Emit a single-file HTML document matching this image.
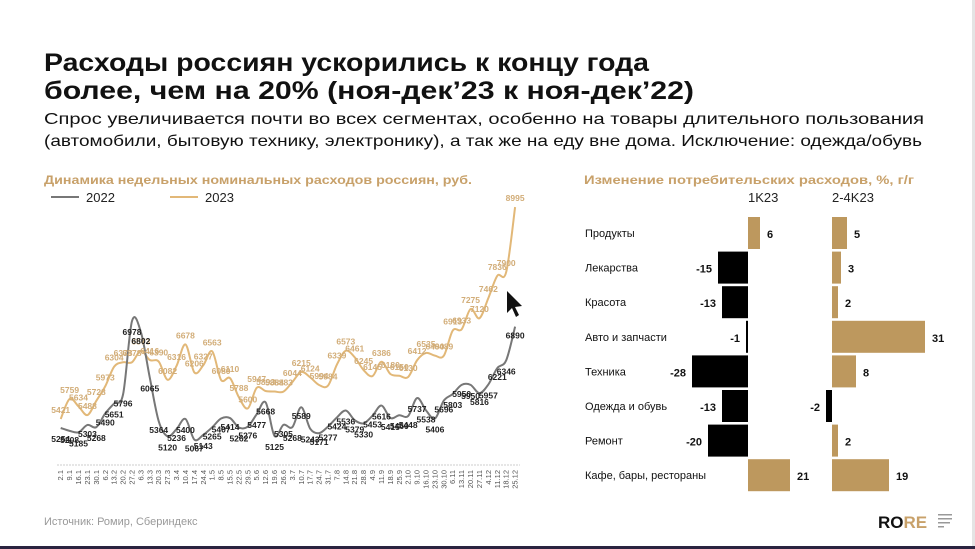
<!DOCTYPE html>
<html><head><meta charset="utf-8">
<style>
html,body{margin:0;padding:0;background:#fff;}
body{width:975px;height:549px;overflow:hidden;position:relative;font-family:"Liberation Sans",sans-serif;}
</style></head>
<body>
<svg id="s" width="975" height="549" xmlns="http://www.w3.org/2000/svg" style="position:absolute;left:0;top:0;font-family:'Liberation Sans',sans-serif">
<rect x="0" y="0" width="975" height="549" fill="#fff"/>
<rect x="972" y="0" width="3" height="549" fill="#e4e4e4"/>
<rect x="0" y="546" width="975" height="3" fill="#2a2440"/>
<text x="44" y="71" font-size="25" font-weight="bold" fill="#111" textLength="605" lengthAdjust="spacingAndGlyphs">Расходы россиян ускорились к концу года</text>
<text x="44" y="99" font-size="25" font-weight="bold" fill="#111" textLength="650" lengthAdjust="spacingAndGlyphs">более, чем на 20% (ноя-дек’23 к ноя-дек’22)</text>
<text x="44" y="124" font-size="16" fill="#111" textLength="880" lengthAdjust="spacingAndGlyphs">Спрос увеличивается почти во всех сегментах, особенно на товары длительного пользования</text>
<text x="44" y="146" font-size="16" fill="#111" textLength="878" lengthAdjust="spacingAndGlyphs">(автомобили, бытовую технику, электронику), а так же на еду вне дома. Исключение: одежда/обувь</text>
<text x="44" y="184" font-size="12" font-weight="bold" fill="#c8a16a" textLength="428" lengthAdjust="spacingAndGlyphs">Динамика недельных номинальных расходов россиян, руб.</text>
<line x1="51" y1="197" x2="79" y2="197" stroke="#777" stroke-width="2"/>
<text x="86" y="202" font-size="13" fill="#222">2022</text>
<line x1="170" y1="197" x2="198" y2="197" stroke="#e2b878" stroke-width="2"/>
<text x="205" y="202" font-size="13" fill="#222">2023</text>
<line x1="57" y1="465" x2="520" y2="465" stroke="#ccc" stroke-width="1" stroke-dasharray="2,1"/>
<text x="44" y="525" font-size="11" fill="#999">Источник: Ромир, Сбериндекс</text>
<text x="584" y="184" font-size="12" font-weight="bold" fill="#c8a16a" textLength="330" lengthAdjust="spacingAndGlyphs">Изменение потребительских расходов, %, г/г</text>
<text x="748" y="202" font-size="13" fill="#222">1K23</text>
<text x="832" y="202" font-size="13" fill="#222">2-4K23</text>
<text x="878" y="528" font-size="17" font-weight="bold" fill="#111">RO<tspan fill="#c8a16a">RE</tspan></text>
<g fill="#999"><rect x="938" y="514" width="14" height="1.5"/><rect x="938" y="518" width="14" height="1.5"/><rect x="938" y="522" width="12" height="1.5"/><rect x="938" y="526" width="6" height="1.5"/></g>
<g id="g"></g>
</svg>
<script>
const ns="http://www.w3.org/2000/svg",g=document.getElementById('g');
function el(t,a,txt){const e=document.createElementNS(ns,t);for(const k in a)e.setAttribute(k,a[k]);if(txt!==undefined)e.textContent=txt;g.appendChild(e);return e;}
const dates="2.1 9.1 16.1 23.1 30.1 6.2 13.2 20.2 27.2 6.3 13.3 20.3 27.3 3.4 10.4 17.4 24.4 1.5 8.5 15.5 22.5 29.5 5.6 12.6 19.6 26.6 3.7 10.7 17.7 24.7 31.7 7.8 14.8 21.8 28.8 4.9 11.9 18.9 25.9 2.10 9.10 16.10 23.10 30.10 6.11 13.11 20.11 27.11 4.12 11.12 18.12 25.12".split(' ');
const d22=[5254,5208,5185,5303,5268,5490,5651,5796,6978,6802,6065,5364,5120,5236,5400,5067,5143,5265,5407,5414,5262,5276,5477,5668,5125,5305,5268,5589,5243,5171,5277,5424,5536,5379,5330,5453,5616,5415,5460,5448,5737,5538,5406,5696,5803,5950,5950,5816,5957,6221,6346,6890];
const d23=[5421,5759,5634,5488,5728,5973,6304,6378,6378,6573,6416,6390,6082,6316,6678,6206,6327,6563,6080,6110,5788,5600,5947,5893,5884,5883,6044,6215,6124,5994,5984,6339,6573,6461,6245,6145,6386,6180,6150,6130,6412,6535,6490,6489,6913,6933,7275,7120,7462,7836,7900,8995];
const X=i=>60.7+i*8.91;
const Y22=v=>428-(v-5254)*0.062, Y23=v=>419-(v-5421)*0.0593;
function path(d,Y){const p=d.map((v,i)=>[X(i),Y(v)]);let s=`M${p[0][0]},${p[0][1]}`;
for(let i=0;i<p.length-1;i++){const p0=p[i-1]||p[i],p1=p[i],p2=p[i+1],p3=p[i+2]||p2;
s+=` C${p1[0]+(p2[0]-p0[0])/6},${p1[1]+(p2[1]-p0[1])/6} ${p2[0]-(p3[0]-p1[0])/6},${p2[1]-(p3[1]-p1[1])/6} ${p2[0]},${p2[1]}`;}return s;}
el('path',{d:path(d23,Y23),fill:'none',stroke:'#e2b878','stroke-width':2});
el('path',{d:path(d22,Y22),fill:'none',stroke:'#777','stroke-width':2});
d23.forEach((v,i)=>el('text',{x:X(i),y:Y23(v)-6,'font-size':8.5,'font-weight':'bold',fill:'#d2ad78','text-anchor':'middle'},v));
d22.forEach((v,i)=>el('text',{x:X(i),y:Y22(v)+(i%2?12:14),'font-size':8.5,'font-weight':'bold',fill:'#222','text-anchor':'middle'},v));
dates.forEach((t,i)=>el('text',{x:0,y:0,'font-size':7.5,fill:'#555','text-anchor':'end',transform:`translate(${X(i)+2.5},470) rotate(-90)`},t));
el('path',{d:'M507,291 L507,313 L512,308 L516,317 L519,315 L515,307 L522,306 Z',fill:'#111'});
const cats=["Продукты","Лекарства","Красота","Авто и запчасти","Техника","Одежда и обувь","Ремонт","Кафе, бары, рестораны"];
const a=[6,-15,-13,-1,-28,-13,-20,21],b=[5,3,2,31,8,-2,2,19];
cats.forEach((c,i)=>{const top=217+i*34.6,mid=top+16;
el('text',{x:585,y:mid+4,'font-size':11,fill:'#111'},c);
function bar(ax,v,k){const w=Math.abs(v)*k,x=v>=0?ax:ax-w;el('rect',{x:x,y:top,width:Math.max(w,2),height:32,fill:v>=0?'#bd985e':'#000'});
el('text',{x:v>=0?ax+w+7:ax-w-6,y:mid+5,'font-size':11,'font-weight':'bold',fill:'#111','text-anchor':v>=0?'start':'end'},v);}
bar(748,a[i],2);bar(832,b[i],3);});
</script>
</body></html>
